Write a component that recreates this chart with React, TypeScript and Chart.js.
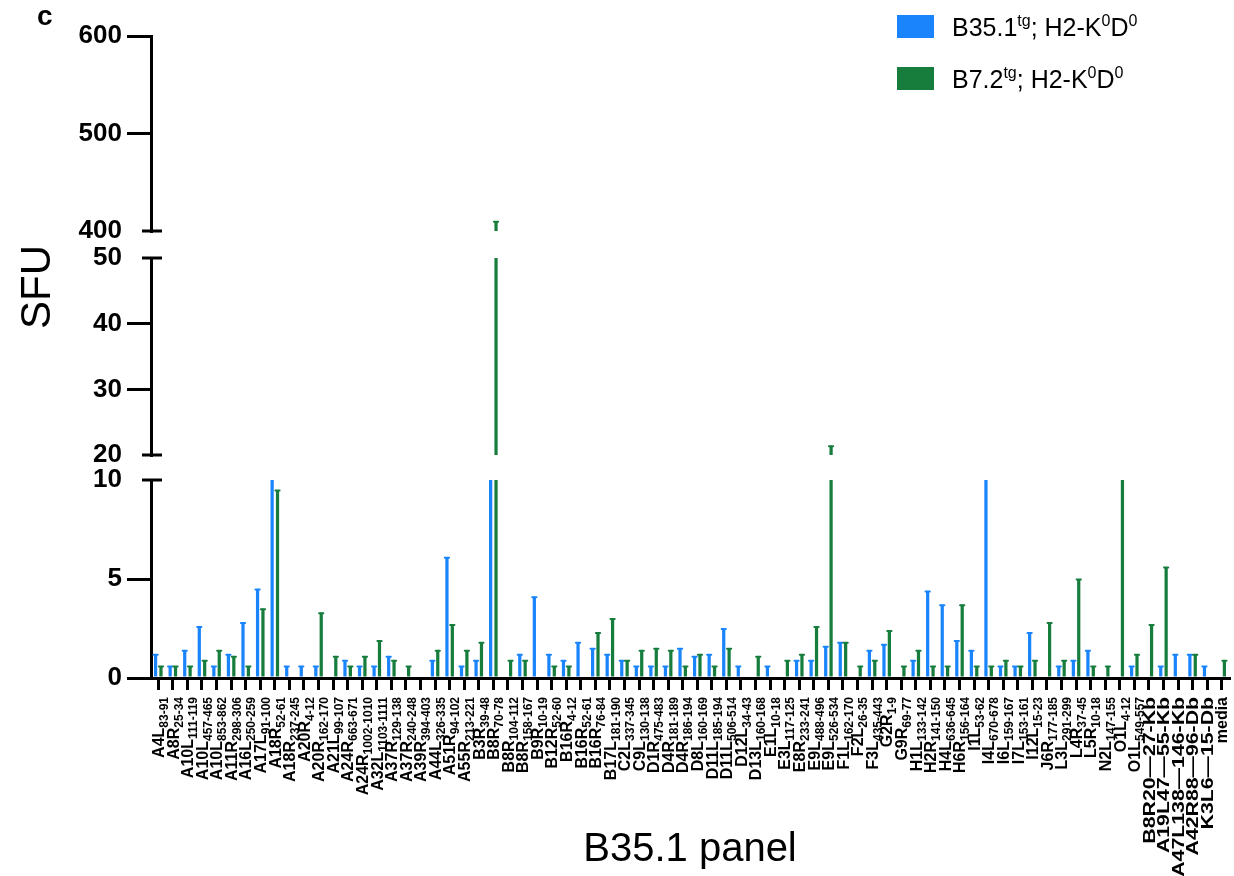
import React, { useEffect, useRef } from "react";
import { Chart, registerables } from "chart.js";

Chart.register(...registerables);

// ---------------- data ----------------
const categories = [
  "A4L", "A8R", "A10L", "A10L", "A10L", "A11R", "A16L", "A17L", "A18R", "A18R",
  "A20R", "A20R", "A21L", "A24R", "A24R", "A32L", "A37R", "A37R", "A39R", "A44L",
  "A51R", "A55R", "B3R", "B8R", "B8R", "B8R", "B9R", "B12R", "B16R", "B16R",
  "B16R", "B17L", "C2L", "C9L", "D1R", "D4R", "D4R", "D8L", "D11L", "D11L",
  "D12L", "D13L", "E1L", "E3L", "E8R", "E9L", "E9L", "F1L", "F2L", "F3L",
  "G2R", "G9R", "H1L", "H2R", "H4L", "H6R", "I1L", "I4L", "I6L", "I7L",
  "I12L", "J6R", "L3L", "L4R", "L5R", "N2L", "O1L", "O1L",
  "B8R20—27-Kb", "A19L47—55-Kb", "A47L138—146-Kb", "A42R88—96-Db", "K3L6—15-Db", "media",
];

const categorySubs = [
  "83-91", "25-34", "111-119", "457-465", "853-862", "298-306", "250-259", "91-100", "52-61", "237-245",
  "4-12", "162-170", "99-107", "663-671", "1002-1010", "1103-1111", "129-138", "240-248", "394-403", "326-335",
  "94-102", "213-221", "39-48", "70-78", "104-112", "158-167", "10-19", "52-60", "4-12", "52-61",
  "76-84", "181-190", "337-345", "130-138", "475-483", "181-189", "186-194", "160-169", "185-194", "506-514",
  "34-43", "160-168", "10-18", "117-125", "233-241", "488-496", "526-534", "162-170", "26-35", "435-443",
  "1-9", "69-77", "133-142", "141-150", "636-645", "156-164", "53-62", "670-678", "159-167", "153-161",
  "15-23", "177-185", "291-299", "37-45", "10-18", "147-155", "4-12", "549-557",
  "", "", "", "", "", "",
];

const blueSFU = [
  1.2, 0.6, 1.4, 2.6, 0.6, 1.2, 2.8, 4.5, 12, 0.6,
  0.6, 0.6, 0, 0.9, 0.6, 0.6, 1.1, 0, 0, 0.9,
  6.1, 0.6, 0.9, 12, 0, 1.2, 4.1, 1.2, 0.9, 1.8,
  1.5, 1.2, 0.9, 0.6, 0.6, 0.6, 1.5, 1.1, 1.2, 2.5,
  0.6, 0, 0.6, 0, 0.9, 0.9, 1.6, 1.8, 0, 1.4,
  1.7, 0, 0.9, 4.4, 3.7, 1.9, 1.4, 12, 0.6, 0.6,
  2.3, 0, 0.6, 0.9, 1.4, 0, 0, 0.6,
  0, 0.6, 1.2, 1.2, 0.6, 0,
];

const greenSFU = [
  0.6, 0.6, 0.6, 0.9, 1.4, 1.1, 0.6, 3.5, 9.5, 0,
  0, 3.3, 1.1, 0.6, 1.1, 1.9, 0.9, 0.6, 0, 1.4,
  2.7, 1.4, 1.8, 410, 0.9, 0.9, 0, 0.6, 0.6, 0,
  2.3, 3.0, 0.9, 1.4, 1.5, 1.4, 0.6, 1.2, 0.6, 1.5,
  0, 1.1, 0, 0.9, 1.2, 2.6, 21.4, 1.8, 0.6, 0.9,
  2.4, 0.6, 1.4, 0.6, 0.6, 3.7, 0.6, 0.6, 0.9, 0.6,
  0.9, 2.8, 0.9, 5.0, 0.6, 0.6, 12, 1.2,
  2.7, 5.6, 0, 1.2, 0, 0.9,
];

const lowerRange = [0, 10];
const middleRange = [20, 50];
const upperRange = [400, 600];
const lowerTicks = [0, 5, 10];
const middleTicks = [20, 30, 40, 50];
const upperTicks = [400, 500, 600];
const breakValues = [10, 20, 50, 400];

const seriesNames = ["B35.1", "B7.2"];
const BLUE = "#1a84fc";
const GREEN = "#167d3d";

// ---------------- helpers ----------------
const FONT = "'Liberation Sans', Arial, Helvetica, sans-serif";

function segData(values: number[], range: number[]) {
  const [lo, hi] = range;
  return values.map((v) => {
    if (!v || v <= lo) return null;
    return [lo, Math.min(v, hi)];
  });
}

type Piece = { t: string; size: number; weight?: string; dy?: number };

function drawRich(ctx: CanvasRenderingContext2D, pieces: Piece[], x: number, y: number) {
  let cx = x;
  for (const p of pieces) {
    ctx.font = `${p.weight || "normal"} ${p.size}px ${FONT}`;
    ctx.fillText(p.t, cx, y + (p.dy || 0));
    cx += ctx.measureText(p.t).width;
  }
}

export default function App() {
  const canvasRef = useRef<HTMLCanvasElement | null>(null);

  useEffect(() => {
    const canvas = canvasRef.current;
    if (!canvas) return;

    const segs: { id: string; range: number[] }[] = [
      { id: "yLow", range: lowerRange },
      { id: "yMid", range: middleRange },
      { id: "yUp", range: upperRange },
    ];

    const datasets: any[] = [];
    const realValues: number[][] = [];
    const dsRanges: number[][] = [];
    [blueSFU, greenSFU].forEach((vals, si) => {
      segs.forEach((s) => {
        datasets.push({
          label: seriesNames[si],
          data: segData(vals, s.range),
          yAxisID: s.id,
          stack: si === 0 ? "blue" : "green",
          backgroundColor: si === 0 ? BLUE : GREEN,
          borderWidth: 0,
          categoryPercentage: 0.74,
          barPercentage: 0.6,
        });
        realValues.push(vals);
        dsRanges.push(s.range);
      });
    });

    const AXIS_W = 151;
    const tickFont = { family: FONT, size: 26, weight: "bold" as const };
    const gridColor = (c: any) =>
      c.tick && breakValues.includes(c.tick.value) ? "rgba(0,0,0,0)" : "#000";

    const valueAxis = (range: number[], ticks: number[], weight: number) => ({
      type: "linear" as const,
      position: "left" as const,
      stack: "sfu",
      stackWeight: weight,
      stacked: false,
      min: range[0],
      max: range[1],
      afterBuildTicks: (s: any) => {
        s.ticks = ticks.map((v) => ({ value: v }));
      },
      afterFit: (s: any) => {
        s.width = AXIS_W;
      },
      ticks: { color: "#000", font: tickFont, padding: 5 },
      grid: {
        display: true,
        drawOnChartArea: false,
        drawTicks: true,
        tickLength: 24,
        lineWidth: 3,
        color: gridColor,
      },
      border: { display: true, color: "#000", width: 3 },
    });

    const gapAxis = (weight: number) => ({
      type: "linear" as const,
      position: "left" as const,
      stack: "sfu",
      stackWeight: weight,
      afterFit: (s: any) => {
        s.width = AXIS_W;
      },
      ticks: { display: false },
      grid: { display: false },
      border: { display: false },
    });

    const decorPlugin = {
      id: "decor",
      afterDatasetsDraw(chart: any) {
        const ctx: CanvasRenderingContext2D = chart.ctx;
        // error caps
        chart.data.datasets.forEach((ds: any, di: number) => {
          const meta = chart.getDatasetMeta(di);
          const vals = realValues[di];
          const [lo, hi] = dsRanges[di];
          meta.data.forEach((el: any, i: number) => {
            const v = vals[i];
            if (!v || v <= lo || v > hi) return;
            ctx.save();
            ctx.strokeStyle = ds.backgroundColor;
            ctx.lineWidth = 2;
            ctx.lineCap = "round";
            ctx.beginPath();
            ctx.moveTo(el.x - el.width / 2 - 0.5, el.y + 0.5);
            ctx.lineTo(el.x + el.width / 2 + 0.5, el.y + 0.5);
            ctx.stroke();
            ctx.restore();
          });
        });
      },
      afterDraw(chart: any) {
        const ctx: CanvasRenderingContext2D = chart.ctx;
        const area = chart.chartArea;
        ctx.save();
        // axis break markers
        ctx.strokeStyle = "#000";
        ctx.lineWidth = 3;
        const marks: [string, number][] = [
          ["yLow", 10],
          ["yMid", 20],
          ["yMid", 50],
          ["yUp", 400],
        ];
        marks.forEach(([id, v]) => {
          const y = chart.scales[id].getPixelForValue(v);
          ctx.beginPath();
          ctx.moveTo(area.left - 9, y);
          ctx.lineTo(area.left + 11, y);
          ctx.stroke();
        });

        // x category labels (rotated, with subscripts)
        const xs = chart.scales.x;
        ctx.fillStyle = "#000";
        const mainSize = 16;
        const subSize = 12;
        const labelTop = 697;
        categories.forEach((main, i) => {
          const x = xs.getPixelForTick(i);
          const sub = categorySubs[i];
          const longLabel = main.includes("—");
          ctx.save();
          ctx.translate(x, labelTop);
          ctx.rotate(-Math.PI / 2);
          if (longLabel) ctx.scale(1.33, 1);
          ctx.textAlign = "right";
          ctx.textBaseline = "alphabetic";
          ctx.font = `bold ${subSize}px ${FONT}`;
          const sw = sub ? ctx.measureText(sub).width : 0;
          const base = mainSize * 0.36;
          if (sub) ctx.fillText(sub, 0, base + 4);
          ctx.font = `bold ${mainSize}px ${FONT}`;
          ctx.fillText(main, -sw, base);
          ctx.restore();
        });

        // y axis title
        ctx.save();
        ctx.translate(50, 287);
        ctx.rotate(-Math.PI / 2);
        ctx.textAlign = "center";
        ctx.textBaseline = "alphabetic";
        ctx.font = `normal 42px ${FONT}`;
        ctx.fillText("SFU", 0, 0);
        ctx.restore();

        // panel letter
        ctx.textAlign = "left";
        ctx.textBaseline = "alphabetic";
        ctx.font = `bold 28px ${FONT}`;
        ctx.fillText("c", 37, 25);

        // legend
        const legendRows = [
          { color: BLUE, name: "B35.1", y: 15 },
          { color: GREEN, name: "B7.2", y: 67 },
        ];
        legendRows.forEach((r) => {
          ctx.fillStyle = r.color;
          ctx.fillRect(897, r.y, 37, 23);
          ctx.fillStyle = "#000";
          drawRich(
            ctx,
            [
              { t: r.name, size: 25 },
              { t: "tg", size: 16, dy: -10 },
              { t: "; H2-K", size: 25 },
              { t: "0", size: 16, dy: -10 },
              { t: "D", size: 25 },
              { t: "0", size: 16, dy: -10 },
            ],
            952,
            r.y + 21
          );
        });
        ctx.restore();
      },
    };

    const chart = new Chart(canvas, {
      type: "bar",
      data: { labels: categories.map((c, i) => c + categorySubs[i]), datasets },
      options: {
        responsive: true,
        maintainAspectRatio: false,
        animation: false,
        layout: { padding: { top: 36, right: 5, left: 0, bottom: 0 } },
        plugins: { legend: { display: false }, tooltip: { enabled: false } },
        scales: {
          x: {
            type: "category",
            offset: true,
            afterFit: (s: any) => {
              s.height = 198;
            },
            ticks: { display: false },
            grid: {
              display: true,
              offset: false,
              drawOnChartArea: false,
              drawTicks: true,
              tickLength: 12,
              lineWidth: 3,
              color: "#000",
            },
            border: { display: true, color: "#000", width: 3 },
            title: {
              display: true,
              text: "B35.1 panel",
              color: "#000",
              font: { family: FONT, size: 40, weight: "normal" },
              padding: { top: 0, bottom: 2 },
            },
          },
          yLow: valueAxis(lowerRange, lowerTicks, 198),
          gapLow: gapAxis(25),
          yMid: valueAxis(middleRange, middleTicks, 197),
          gapUp: gapAxis(27),
          yUp: valueAxis(upperRange, upperTicks, 195),
        } as any,
      },
      plugins: [decorPlugin],
    });

    return () => chart.destroy();
  }, []);

  return (
    <div style={{ position: "absolute", left: 0, top: 0, width: 1234, height: 876, background: "#fff" }}>
      <canvas ref={canvasRef} />
    </div>
  );
}
